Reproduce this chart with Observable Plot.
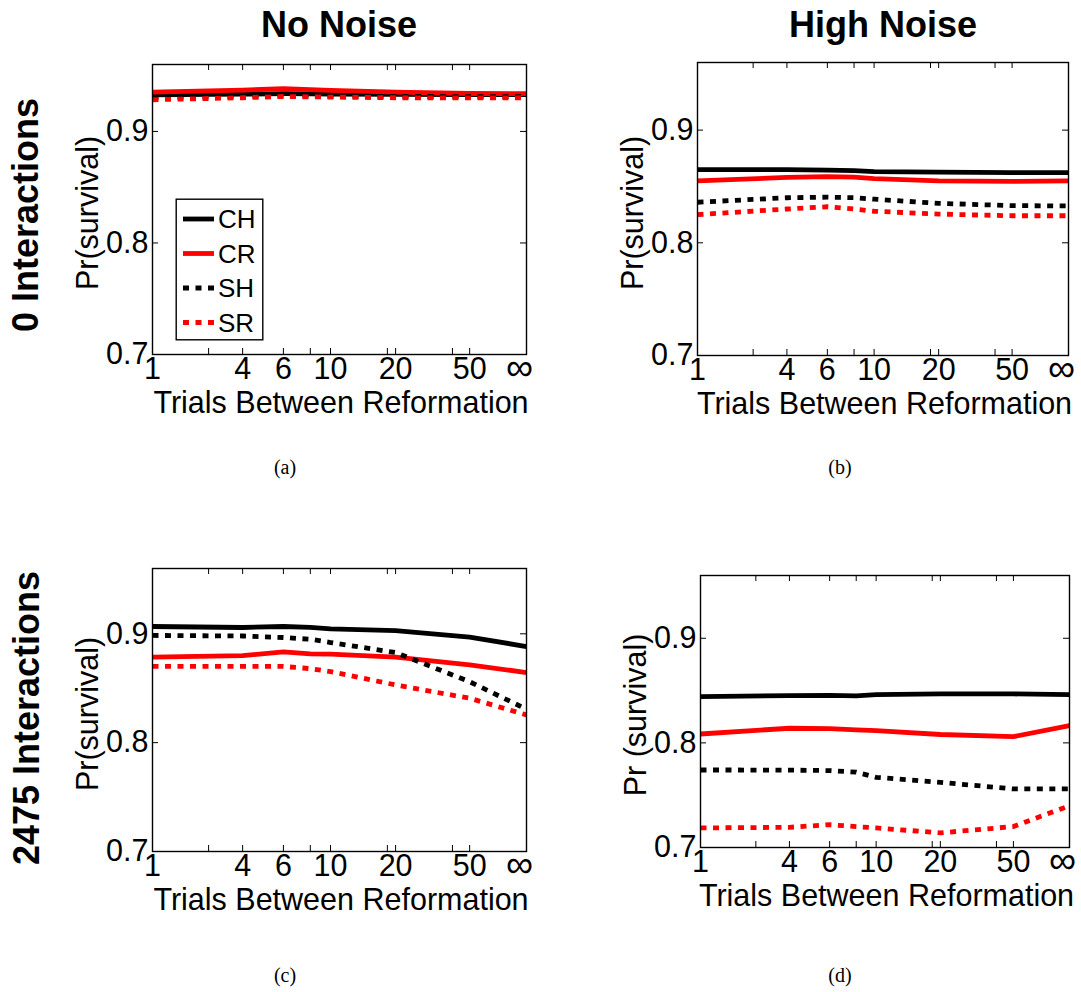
<!DOCTYPE html>
<html>
<head>
<meta charset="utf-8">
<script src="https://cdn.jsdelivr.net/npm/d3@7"></script>
<script src="https://cdn.jsdelivr.net/npm/@observablehq/plot@0.6"></script>
<style>
  body { margin: 0; background: #fff; }
  #fig { position: relative; width: 1081px; height: 992px; font-family: "Liberation Sans", Arial, Helvetica, sans-serif; color: #000; overflow: hidden; }
  .t { position: absolute; white-space: nowrap; line-height: 1; transform: translate(-50%, -50%); }
  .rot { transform: translate(-50%, -50%) rotate(-90deg); }
  .panel { position: absolute; }
</style>
</head>
<body>
<div id="fig"></div>
<script>
// ---------------- data ----------------
const trials = [1, 4, 6, 8, 10, 20, 50, Infinity];
const seriesNames = ["CH", "CR", "SH", "SR"];
const colTitles = ["No Noise", "High Noise"];
const rowTitles = ["0 Interactions", "2475 Interactions"];
const captions = ["(a)", "(b)", "(c)", "(d)"];
const yTicks = [0.7, 0.8, 0.9];
const xTicks = [1, 2, 4, 6, 8, 10, 15, 20, 40, 50, Infinity];
const xTickLabels = ["1", "", "4", "6", "", "10", "", "20", "", "50", "\u221E"];

// (a) no noise, 0 interactions
const aCH = [0.9328, 0.9334, 0.9338, 0.9336, 0.9335, 0.9332, 0.9330, 0.9330];
const aCR = [0.9353, 0.9370, 0.9383, 0.9375, 0.9368, 0.9352, 0.9340, 0.9338];
const aSH = [0.9305, 0.9315, 0.9320, 0.9318, 0.9316, 0.9314, 0.9312, 0.9312];
const aSR = [0.9284, 0.9302, 0.9313, 0.9310, 0.9308, 0.9302, 0.9300, 0.9302];
// (b) high noise, 0 interactions
const bCH = [0.8650, 0.8650, 0.8645, 0.8640, 0.8632, 0.8628, 0.8622, 0.8622];
const bCR = [0.8550, 0.8580, 0.8588, 0.8582, 0.8570, 0.8550, 0.8545, 0.8550];
const bSH = [0.8360, 0.8400, 0.8405, 0.8400, 0.8387, 0.8350, 0.8330, 0.8327];
const bSR = [0.8250, 0.8300, 0.8320, 0.8300, 0.8280, 0.8255, 0.8240, 0.8240];
// (c) no noise, 2475 interactions
const cCH = [0.9067, 0.9058, 0.9067, 0.9060, 0.9046, 0.9030, 0.8970, 0.8883];
const cCR = [0.8785, 0.8800, 0.8834, 0.8815, 0.8813, 0.8785, 0.8715, 0.8644];
const cSH = [0.8985, 0.8980, 0.8966, 0.8950, 0.8920, 0.8828, 0.8560, 0.8307];
const cSR = [0.8700, 0.8700, 0.8700, 0.8680, 0.8653, 0.8530, 0.8408, 0.8255];
// (d) high noise, 2475 interactions
const dCH = [0.8442, 0.8452, 0.8455, 0.8449, 0.8461, 0.8468, 0.8468, 0.8461];
const dCR = [0.8085, 0.8140, 0.8136, 0.8125, 0.8117, 0.8080, 0.8060, 0.8165];
const dSH = [0.7741, 0.7740, 0.7735, 0.7720, 0.7671, 0.7623, 0.7560, 0.7560];
const dSR = [0.7187, 0.7193, 0.7218, 0.7200, 0.7187, 0.7140, 0.7200, 0.7400];

// ---------------- layout / style ----------------
const INF = 1000; // stand-in position key for the "infinity" column
const xk = t => (t === Infinity ? INF : t);
const xTickFrac = [0, 0.150, 0.241, 0.350, 0.422, 0.476, 0.628, 0.650, 0.802, 0.848, 1];
const styles = {
  CH: { stroke: "#000000", dash: null },
  CR: { stroke: "#ff0000", dash: null },
  SH: { stroke: "#000000", dash: "6,6.5" },
  SR: { stroke: "#ff0000", dash: "6,6.5" }
};
const FONT = '"Liberation Sans", Arial, Helvetica, sans-serif';
const AX = 30.5;

const panels = [
  { box: [152, 64, 374, 290], ylab: "Pr(survival)", data: { CH: aCH, CR: aCR, SH: aSH, SR: aSR }, legend: true },
  { box: [697, 62, 371, 293], ylab: "Pr(survival)", data: { CH: bCH, CR: bCR, SH: bSH, SR: bSR } },
  { box: [152, 568, 374, 283], ylab: "Pr(survival)", data: { CH: cCH, CR: cCR, SH: cSH, SR: cSR } },
  { box: [700, 575, 369, 272], ylab: "Pr (survival)", data: { CH: dCH, CR: dCR, SH: dSH, SR: dSR } }
];

const fig = document.getElementById("fig");
function addText(txt, x, y, css, rot) {
  const d = document.createElement("div");
  d.className = "t" + (rot ? " rot" : "");
  d.textContent = txt;
  d.style.left = x + "px";
  d.style.top = y + "px";
  Object.assign(d.style, css);
  fig.appendChild(d);
  return d;
}

const ml = 70, mr = 30, mt = 12, mb = 50;
const allX = xTicks.map(xk);
const labelOf = v => xTickLabels[allX.indexOf(v)];
const numTicks = allX.filter((v, i) => xTickLabels[i] !== "" && v !== INF);
const infTicks = allX.filter(v => v === INF);

panels.forEach((p, pi) => {
  const [bx, by, w, h] = p.box;
  const lineMarks = seriesNames.map(n => {
    const rows = trials.map((t, i) => ({ t: xk(t), v: p.data[n][i] }));
    return Plot.line(rows, {
      x: "t", y: "v", stroke: styles[n].stroke, strokeWidth: 4.8,
      strokeDasharray: styles[n].dash || undefined,
      strokeLinecap: "butt", strokeLinejoin: "round"
    });
  });
  const chart = Plot.plot({
    width: w + ml + mr,
    height: h + mt + mb,
    marginLeft: ml, marginRight: mr, marginTop: mt, marginBottom: mb,
    x: { type: "linear", domain: allX, range: xTickFrac.map(f => ml + f * w) },
    y: { domain: [0.7, 0.96], range: [mt + h, mt] },
    style: { fontFamily: FONT, fontSize: AX + "px", color: "#000", background: "transparent", overflow: "visible" },
    marks: [
      ...lineMarks,
      Plot.tickX(allX, { x: d => d, insetTop: h - 6, stroke: "#000", strokeWidth: 1 }),
      Plot.tickX(allX, { x: d => d, insetBottom: h - 6, stroke: "#000", strokeWidth: 1 }),
      Plot.tickY(yTicks, { y: d => d, insetRight: w - 6, stroke: "#000", strokeWidth: 1 }),
      Plot.tickY(yTicks, { y: d => d, insetLeft: w - 6, stroke: "#000", strokeWidth: 1 }),
      Plot.frame({ stroke: "#000", strokeWidth: 1.4 }),
      Plot.axisX({ ticks: numTicks, tickFormat: labelOf, tickSize: 0, tickPadding: 3, fontSize: AX, label: null }),
      Plot.axisX({ ticks: infTicks, tickFormat: labelOf, tickSize: 0, tickPadding: -1, dx: -7, fontSize: 38, label: null }),
      Plot.axisY({ ticks: yTicks, tickFormat: d3.format(".1f"), tickSize: 0, tickPadding: 4, fontSize: AX, label: null })
    ]
  });
  chart.classList.add("panel");
  chart.style.left = (bx - ml) + "px";
  chart.style.top = (by - mt) + "px";
  fig.appendChild(chart);

  // axis titles
  addText("Trials Between Reformation", bx + w / 2 + 2, by + h + 48, { fontSize: AX + "px" });
  addText(p.ylab, bx - 65, by + h / 2 + 4, { fontSize: AX + "px" }, true);
  // caption
  addText(captions[pi], pi % 2 === 0 ? 285 : 840, pi < 2 ? 467 : 975,
    { fontSize: "20px", fontFamily: '"Liberation Serif", "Times New Roman", serif' });

  if (p.legend) {
    const lg = d3.create("svg").attr("width", 90).attr("height", 144)
      .style("position", "absolute").style("left", "175px").style("top", "198px");
    lg.append("rect").attr("x", 1.2).attr("y", 1.2).attr("width", 86.6).attr("height", 140.6)
      .attr("fill", "#fff").attr("stroke", "#000").attr("stroke-width", 1.4);
    seriesNames.forEach((n, i) => {
      const yy = 21 + i * 34.5;
      lg.append("line").attr("x1", 8).attr("x2", 39).attr("y1", yy).attr("y2", yy)
        .attr("stroke", styles[n].stroke).attr("stroke-width", 4.8)
        .attr("stroke-dasharray", styles[n].dash).attr("stroke-linecap", "butt");
      lg.append("text").attr("x", 43).attr("y", yy).attr("dy", "0.36em")
        .attr("font-size", 26).attr("font-family", FONT).text(n);
    });
    fig.appendChild(lg.node());
  }
});

// column and row titles
addText(colTitles[0], 339, 25, { fontSize: "36px", fontWeight: "bold" });
addText(colTitles[1], 883, 25, { fontSize: "36px", fontWeight: "bold" });
addText(rowTitles[0], 26, 215, { fontSize: "36px", fontWeight: "bold" }, true);
addText(rowTitles[1], 27, 718, { fontSize: "36px", fontWeight: "bold" }, true);
</script>
</body>
</html>
